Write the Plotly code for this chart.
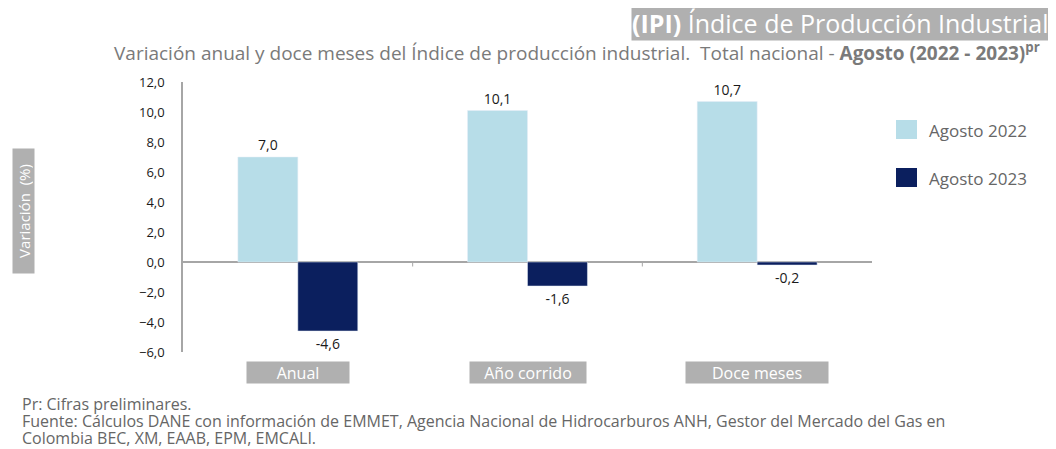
import plotly.graph_objects as go

categories = ["Anual", "Año corrido", "Doce meses"]
series_names = ["Agosto 2022", "Agosto 2023"]
values_2022 = [7.0, 10.1, 10.7]
values_2023 = [-4.6, -1.6, -0.2]
y_ticks = [-6, -4, -2, 0, 2, 4, 6, 8, 10, 12]

light = "#b7dde8"
dark = "#0b1f5e"
gray_box = "#b0b0b0"
font = "Open Sans"

# page body margin offset (8px) -> figure is slightly smaller
OFF = 8
W, H = 1056 - OFF, 449 - OFF
# plot area in reference pixels: x 183..872, y 82..352
L, R, T, B = 183 - OFF, W - (872 - OFF), 82 - OFF, H - (352 - OFF)
PW, PH = W - L - R, H - T - B


def px(x):
    return (x - OFF - L) / PW


def py(y):
    return 1 - (y - OFF - T) / PH


fig = go.Figure()
for vals, name, col in [(values_2022, series_names[0], light), (values_2023, series_names[1], dark)]:
    fig.add_trace(go.Bar(
        x=categories, y=vals, name=name, marker_color=col,
        texttemplate="%{y:.1f}", textposition="outside", cliponaxis=False,
        textfont=dict(size=14, color="#1a1a1a", family=font),
        showlegend=False,
    ))

fig.update_layout(
    width=W, height=H,
    paper_bgcolor="white", plot_bgcolor="white",
    separators=",.",
    barmode="group", bargap=0.478, bargroupgap=0,
    margin=dict(l=L, r=R, t=T, b=B, autoexpand=False),
    font=dict(family=font, color="#555555"),
    showlegend=False,
    xaxis=dict(showticklabels=False, showgrid=False, showline=False, ticks="",
               range=[-0.5, 2.5], zeroline=False),
    yaxis=dict(range=[-6, 12], tickvals=y_ticks, tickformat=".1f", showgrid=False,
               showline=True, linecolor="#a6a6a6", linewidth=1.5,
               zeroline=True, zerolinecolor="#a6a6a6", zerolinewidth=1.5,
               tickfont=dict(size=13, color="#1a1a1a", family=font), ticks="",
               ticklabelstandoff=14),
)

annotations = []
shapes = []
# Category label boxes (centers follow categories on the x axis)
box_widths = [100, 114, 140]
for c, bw in zip(categories, box_widths):
    annotations.append(dict(
        x=c, y=0, xref="x", yref="paper", yshift=-20, showarrow=False,
        text=c, font=dict(size=16, color="white", family=font),
        bgcolor=gray_box, width=bw, height=19,
        xanchor="center", yanchor="middle",
    ))
# category boundary ticks on zero line
for i in range(len(categories) - 1):
    shapes.append(dict(type="line", xref="x", yref="y", x0=i + 0.5, x1=i + 0.5,
                       y0=0, y1=-0.3, line=dict(color="#a6a6a6", width=1)))

# Axis title box
annotations.append(dict(
    x=px(23), y=py(211), xref="paper", yref="paper", showarrow=False,
    xanchor="center", yanchor="middle",
    text="Variación  (%)", textangle=-90,
    font=dict(size=15, color="white", family=font), bgcolor=gray_box,
    width=122, height=19,
))
# Title
annotations.append(dict(
    x=px(1050), y=py(23), xref="paper", yref="paper", showarrow=False,
    xanchor="right", yanchor="middle",
    text="<b>(IPI)</b> Índice de Producción Industrial",
    font=dict(size=25, color="white", family=font), bgcolor=gray_box,
    borderpad=0,
))
annotations.append(dict(
    x=px(1042), y=py(52), xref="paper", yref="paper", showarrow=False,
    xanchor="right", yanchor="middle",
    text="Variación anual y doce meses del Índice de producción industrial.  Total nacional - <b>Agosto (2022 - 2023)<sup>pr</sup></b>",
    font=dict(size=19, color="#7a7a7a", family=font),
))
# Legend (manual)
legend_y = [130, 178]
for name, col, ly in zip(series_names, [light, dark], legend_y):
    shapes.append(dict(type="rect", xref="paper", yref="paper",
                       x0=px(896), x1=px(917), y0=py(ly - 10), y1=py(ly + 9),
                       fillcolor=col, line=dict(width=0)))
    annotations.append(dict(
        x=px(927), y=py(ly), xref="paper", yref="paper", showarrow=False,
        xanchor="left", yanchor="middle", text=name,
        font=dict(size=17, color="#666666", family=font),
    ))
# Footnotes
foot = [
    "Pr: Cifras preliminares.",
    "Fuente: Cálculos DANE con información de EMMET, Agencia Nacional de Hidrocarburos ANH, Gestor del Mercado del Gas en",
    "Colombia BEC, XM, EAAB, EPM, EMCALI.",
]
for k, t in enumerate(foot):
    annotations.append(dict(
        x=px(20), y=py(404 + 17 * k), xref="paper", yref="paper", showarrow=False,
        xanchor="left", yanchor="middle",
        text=t, font=dict(size=16, color="#666666", family=font),
    ))

fig.update_layout(annotations=annotations, shapes=shapes)
fig.write_html("out.html")
